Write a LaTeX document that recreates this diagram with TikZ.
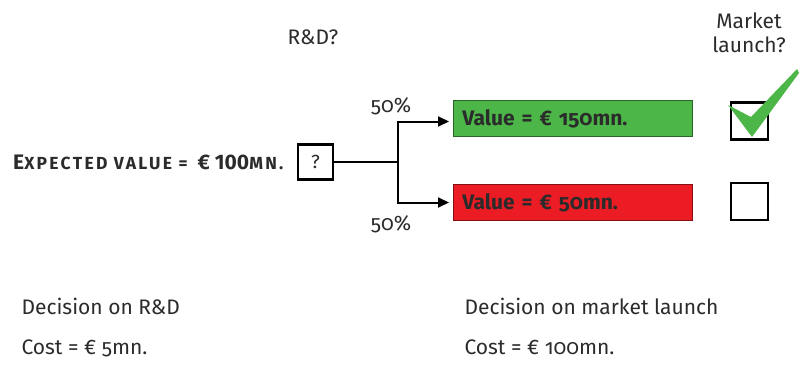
\documentclass[tikz,border=0pt]{standalone}
\usepackage{fontspec}
\setmainfont[Numbers=OldStyle]{Fira Sans}
\newfontfamily\liningfont{Fira Sans}
\newfontfamily\spacedfont[LetterSpace=13]{Fira Sans}
\usetikzlibrary{arrows.meta,calc,positioning}

\definecolor{inkgray}{HTML}{2B2B2B}
\definecolor{valgreen}{HTML}{4CB748}
\definecolor{valred}{HTML}{EC1C24}

\tikzset{
  decbox/.style={draw=black, line width=2.8pt, minimum size=#1, inner sep=0pt},
  valbox/.style={draw=#1!55!black, fill=#1, line width=0.8pt, anchor=west,
    minimum width=239pt, minimum height=36pt, inner xsep=9pt,
    text width=221pt, align=left, font=\bfseries\fontsize{21}{24}\selectfont},
  branch/.style={line width=2pt, -{Triangle[length=11pt,width=10pt]}, shorten >=4pt},
  label/.style={text=inkgray, font=\fontsize{21}{24}\selectfont},
}

\begin{document}
\begin{tikzpicture}[x=1pt, y=-1pt, every node/.style={text=inkgray}]
  \useasboundingbox (0,0) rectangle (800,364);

  % questions on top
  \node[label] (rdq) at (313,37) {R\&D?};
  \node[label, align=center] (mlq) at (749,33) {Market\\launch?};

  % R&D decision and expected value
  \node[decbox=35pt, font=\fontsize{19}{20}\selectfont] (q) at (315.5,162) {?};
  \node[left=13pt of q, inner sep=0pt, font=\bfseries\fontsize{21}{22}\selectfont] (ev)
    {E{\spacedfont\fontsize{17.5}{20}\selectfont XPECTED VALUE =}\ \ € {\liningfont 100}{\spacedfont\fontsize{17.5}{20}\selectfont MN.}};

  % outcomes
  \node[valbox=valgreen] (good) at (453,118.5) {Value = € 150mn.};
  \node[valbox=valred] (bad) at (453,202.5) {Value = € 50mn.};

  \coordinate (fork) at (398,162);
  \draw[line width=2pt] (q.east) -- (fork);
  \draw[branch] (fork) |- ($(good.west)+(0,3)$);
  \draw[branch] (fork) |- (bad.west);
  \node[label] (pgood) at (391,106) {50\%};
  \node[label] (pbad) at (391,224) {50\%};

  % launch decision
  \node[decbox=37pt] (ckgood) at (749.5,121) {};
  \node[decbox=37pt] (ckbad) at (749.5,201.5) {};
  \fill[valgreen] (728,105) -- (751,117) -- (797,69) -- (799,73) -- (752,137) -- cycle;

  % costs
  \node[label, anchor=base west] (rdlabel) at (18,314) {Decision on R\&D};
  \node[label, anchor=base west] (rdcost) at (18,354) {Cost = € 5mn.};
  \node[label, anchor=base west] (mllabel) at (461,314) {Decision on market launch};
  \node[label, anchor=base west] (mlcost) at (461,354) {Cost = € 100mn.};
\end{tikzpicture}
\end{document}
